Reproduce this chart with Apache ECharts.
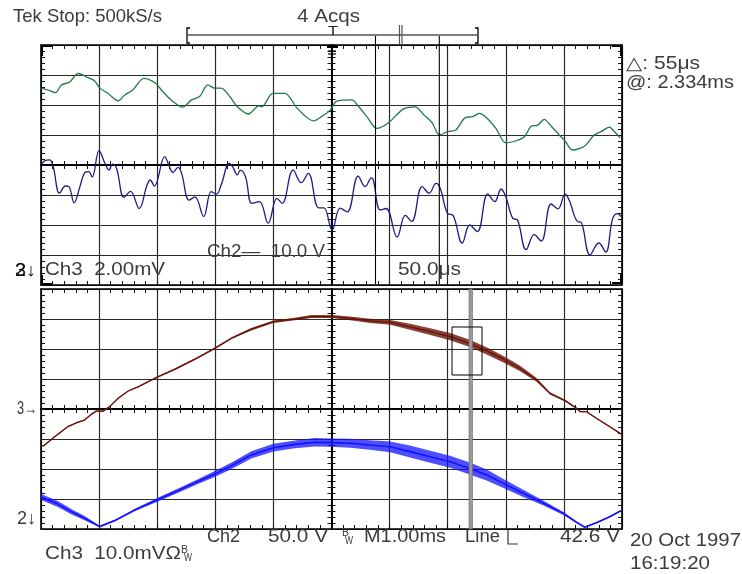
<!DOCTYPE html>
<html><head><meta charset="utf-8">
<script src="https://cdn.jsdelivr.net/npm/echarts@6.0.0/dist/echarts.min.js"></script>
<style>html,body{margin:0;padding:0;background:#fff;}#chart{width:742px;height:574px;}</style>
</head><body><div id="chart"></div>
<script>
// ===== Data (graticule divisions: x 0..10, y -4..4, 0 = centre line) =====
// Upper (zoomed, 50.0 µs/div) window
const greenTrace = [[0,2.56],[0.12,2.5],[0.25,2.41],[0.35,2.67],[0.49,2.76],[0.64,3.05],[0.81,2.91],[0.92,2.81],[1.01,2.57],[1.15,2.39],[1.33,2.14],[1.44,2.33],[1.58,2.5],[1.77,2.89],[1.96,2.74],[2.1,2.44],[2.24,2.17],[2.44,1.93],[2.59,2.17],[2.73,2.28],[2.87,2.67],[2.99,2.56],[3.1,2.56],[3.25,2.28],[3.38,1.94],[3.57,1.7],[3.75,1.97],[3.8,1.94],[3.99,2.39],[4.2,2.39],[4.41,1.89],[4.69,1.47],[4.84,1.63],[4.98,1.83],[5.09,2.13],[5.35,2.17],[5.47,1.94],[5.61,1.61],[5.78,1.22],[5.98,1.41],[6.24,1.87],[6.44,1.94],[6.59,1.67],[6.73,1.41],[6.86,1.0],[7.0,1.11],[7.14,1.17],[7.31,1.59],[7.43,1.61],[7.54,1.72],[7.66,1.59],[7.83,1.22],[8.0,0.74],[8.17,0.8],[8.32,0.94],[8.43,1.28],[8.55,1.33],[8.66,1.52],[8.78,1.3],[8.92,1.0],[9.01,0.83],[9.15,0.5],[9.29,0.56],[9.38,0.67],[9.52,1.0],[9.64,1.11],[9.78,1.26],[9.87,1.11],[9.97,0.91]];
const navyTrace = [[0,0],[0.06,0.14],[0.15,0.17],[0.21,-0.06],[0.32,-0.94],[0.42,-0.7],[0.48,-0.72],[0.57,-1.26],[0.67,-0.72],[0.75,-0.26],[0.82,-0.22],[0.88,-0.4],[1.0,0.48],[1.1,0.06],[1.17,-0.17],[1.23,0.03],[1.3,-0.11],[1.43,-1.08],[1.54,-0.88],[1.69,-1.45],[1.82,-0.7],[1.88,-0.5],[1.95,-0.7],[2.13,0.28],[2.2,0],[2.27,-0.25],[2.36,-0.08],[2.42,-0.28],[2.55,-1.17],[2.65,-1.06],[2.8,-1.72],[2.93,-0.89],[3.02,-0.97],[3.1,-0.67],[3.24,0.05],[3.3,-0.06],[3.38,-0.33],[3.43,-0.17],[3.52,-0.39],[3.63,-1.28],[3.76,-1.22],[3.91,-1.94],[4.06,-1.11],[4.15,-1.28],[4.34,-0.17],[4.48,-0.59],[4.6,-0.28],[4.78,-1.43],[4.87,-1.43],[5.01,-2.17],[5.15,-1.44],[5.27,-1.56],[5.46,-0.37],[5.58,-0.72],[5.69,-0.43],[5.72,-0.5],[5.84,-1.5],[5.94,-1.45],[6.13,-2.4],[6.27,-1.68],[6.38,-1.88],[6.56,-0.72],[6.68,-0.94],[6.8,-0.61],[6.87,-0.77],[7.0,-1.62],[7.09,-1.67],[7.25,-2.6],[7.38,-2.0],[7.51,-2.22],[7.69,-0.96],[7.81,-1.22],[7.92,-0.8],[8.0,-1.06],[8.12,-1.78],[8.2,-1.83],[8.35,-2.82],[8.49,-2.32],[8.61,-2.54],[8.78,-1.3],[8.9,-1.46],[9.02,-0.97],[9.09,-1.17],[9.24,-1.89],[9.29,-1.9],[9.45,-3.0],[9.6,-2.6],[9.72,-2.9],[9.84,-1.78],[9.93,-1.62],[9.98,-1.72]];
// Lower (main, 1.00 ms/div) window: [x, y, noise half-width]
const brownTrace = [[0,-1.23,0.02],[0.05,-1.22,0.02],[0.24,-0.92,0.02],[0.46,-0.59,0.02],[0.64,-0.44,0.02],[0.75,-0.37,0.02],[0.87,-0.17,0.02],[0.95,-0.07,0.02],[1.07,-0.07,0.02],[1.18,0.08,0.02],[1.33,0.36,0.02],[1.5,0.6,0.02],[1.67,0.74,0.02],[2.0,1.06,0.02],[2.3,1.32,0.03],[2.65,1.66,0.03],[2.99,2.02,0.03],[3.28,2.36,0.03],[3.62,2.66,0.04],[4.0,2.91,0.04],[4.37,3.0,0.04],[4.65,3.08,0.05],[5.0,3.08,0.05],[5.32,3.02,0.06],[5.66,2.94,0.07],[6.01,2.89,0.08],[6.35,2.74,0.1],[6.7,2.58,0.11],[7.04,2.41,0.12],[7.38,2.19,0.12],[7.67,1.94,0.12],[7.96,1.66,0.11],[8.24,1.36,0.09],[8.53,0.97,0.06],[8.76,0.52,0.04],[9.02,0.28,0.03],[9.22,0.02,0.02],[9.28,-0.09,0.02],[9.39,-0.09,0.02],[9.56,-0.31,0.02],[9.79,-0.59,0.02],[9.98,-0.83,0.02]];
const blueTrace = [[0,-2.93,0.1],[0.29,-3.17,0.1],[0.52,-3.42,0.09],[0.75,-3.64,0.07],[1.01,-3.92,0.03],[1.27,-3.72,0.03],[1.61,-3.37,0.04],[2.0,-3.03,0.06],[2.36,-2.72,0.07],[2.7,-2.42,0.08],[2.99,-2.17,0.1],[3.28,-1.89,0.11],[3.62,-1.53,0.12],[4.0,-1.29,0.13],[4.37,-1.18,0.13],[4.71,-1.11,0.14],[5.0,-1.12,0.14],[5.32,-1.14,0.15],[5.66,-1.2,0.16],[6.01,-1.26,0.18],[6.35,-1.42,0.2],[6.7,-1.59,0.2],[7.04,-1.76,0.2],[7.38,-1.98,0.2],[7.67,-2.2,0.18],[7.96,-2.48,0.15],[8.3,-2.81,0.12],[8.65,-3.14,0.08],[8.99,-3.48,0.05],[9.22,-3.78,0.03],[9.36,-3.94,0.02],[9.56,-3.79,0.02],[9.79,-3.59,0.02],[9.98,-3.39,0.02]];
// Texts
const headerLeft = 'Tek Stop: 500kS/s';
const headerMid = '4 Acqs';
const cursorDelta = '\u25B3: 55\u03BCs';
const cursorAt = '@: 2.334ms';
const upperCh3 = 'Ch3  2.00mV';
const upperCh2 = 'Ch2\u2014  10.0 V';
const upperTime = '50.0\u03BCs';
const footCh2 = 'Ch2';
const footCh2Scale = '50.0 V';
const footTime = 'M1.00ms';
const footTrig = 'Line';
const footLevel = '42.6 V';
const footCh3 = 'Ch3  10.0mV\u03A9';
const footDate = '20 Oct 1997';
const footClock = '16:19:20';

// ===== Layout =====
const GRIDS = [{left:41, top:45, width:581, height:240}, {left:41, top:289, width:581, height:240}];
const xAxes = [], yAxes = [];
function ax(dim, gi, pos, offset, inside, opt) {
  opt = opt || {};
  const a = {
    gridIndex: gi, type: 'value', position: pos, offset: offset,
    min: dim === 'x' ? 0 : -4, max: dim === 'x' ? 10 : 4, interval: 1,
    axisLine: {show: true, onZero: false, lineStyle: {color: '#000', width: opt.lw || 1.6}},
    axisTick: {show: true, inside: inside, length: 4, lineStyle: {color: '#111', width: 1}},
    minorTick: {show: true, splitNumber: 5, length: 4, lineStyle: {color: '#111', width: 1}},
    axisLabel: {show: false},
    splitLine: {show: !!opt.split, lineStyle: {color: '#2a2a2a', width: 1.2}},
    minorSplitLine: {show: false},
    silent: true
  };
  (dim === 'x' ? xAxes : yAxes).push(a);
}
for (let gi = 0; gi < 2; gi++) {
  const g = GRIDS[gi];
  ax('x', gi, 'bottom', 0, true, {split: true});
  ax('x', gi, 'top', 0, true);
  ax('x', gi, 'bottom', -g.height / 2, true, {lw: 1.8});
  ax('x', gi, 'bottom', -g.height / 2, false, {lw: 1.8});
  ax('y', gi, 'left', 0, true, {split: true});
  ax('y', gi, 'right', 0, true);
  ax('y', gi, 'left', -g.width / 2, true, {lw: 1.8});
  ax('y', gi, 'left', -g.width / 2, false, {lw: 1.8});
}

function band(trace, color) {
  return function (params, api) {
    const up = trace.map(p => api.coord([p[0], p[1] + p[2]]));
    const dn = trace.slice().reverse().map(p => api.coord([p[0], p[1] - p[2]]));
    return {type: 'polygon', shape: {points: up.concat(dn)}, style: {fill: color}, silent: true};
  };
}

const mctx = document.createElement('canvas').getContext('2d');
const FONT = '"Liberation Sans", Arial, sans-serif';
function T(str, x0, x1, cy, size, color) {
  const font = size + 'px ' + FONT;
  mctx.font = font;
  const w = mctx.measureText(str).width;
  return {type: 'text', x: x0, y: cy, scaleX: (x1 - x0) / w, z: 100, silent: true,
    style: {text: str, font: font, fill: color || '#3c3c3c', align: 'left', verticalAlign: 'middle'}};
}
function L(x1, y1, x2, y2, w, c) {
  return {type: 'line', z: 50, silent: true, shape: {x1, y1, x2, y2}, style: {stroke: c || '#000', lineWidth: w || 1}};
}
function P(points, w, c) {
  return {type: 'polyline', z: 60, silent: true, shape: {points}, style: {stroke: c || '#000', lineWidth: w || 1.5, fill: null}};
}

const graphics = [
  T(headerLeft, 13, 162, 17, 19),
  T(headerMid, 297, 360, 17, 19),
  T(cursorDelta, 626, 700, 64, 18),
  T(cursorAt, 626, 734, 83, 18),
  T(upperCh3, 45, 165, 270, 18),
  T(upperCh2, 207, 325, 252, 18),
  T(upperTime, 398, 461, 270, 18),
  T('3', 15, 26, 271, 18, '#111'),
  T('2\u2193', 15, 36, 271, 18, '#111'),
  T('3\u2192', 17, 37, 409, 18),
  T('2\u2193', 17, 36, 519, 18),
  T(footCh2, 207, 240, 537, 18),
  T(footCh2Scale, 268, 328, 537, 18),
  T('B', 342, 349, 533, 10),
  T('W', 345, 353, 541, 10),
  T(footTime, 364, 446, 537, 18),
  T(footTrig, 465, 500, 537, 18),
  P([[508,530],[508,544],[518,544]], 1.2, '#333'),
  T(footLevel, 560, 620, 537, 18),
  T(footDate, 630, 741, 541, 18),
  T(footCh3, 45, 181, 554, 18),
  T('B', 181, 188, 550, 10),
  T('W', 184, 192, 558, 10),
  T(footClock, 630, 710, 564, 18),
  // record-length ruler
  L(188, 35, 477, 35, 1.2),
  P([[190,28],[187,28],[187,43],[190,43]], 1.3),
  P([[475,28],[478,28],[478,43],[475,43]], 1.3),
  T('T', 328, 338, 31, 13, '#222'),
  L(399.5, 25, 399.5, 45, 1.2, '#555'),
  L(402, 25, 402, 45, 1.2, '#555'),
  // trigger marker on top edge
  L(327, 46.5, 338, 46.5, 3),
  L(328, 51, 336, 51, 1.2),
  L(328, 54, 336, 54, 1.2),
  // upper-window time cursors
  L(375.5, 36, 375.5, 284, 1.1),
  L(439.3, 36, 439.3, 284, 1.1),
  // corner marks
  P([[42,56],[42,46],[52,46]], 2),
  P([[612,46],[621,46],[621,56]], 2),
  P([[612,283],[621,283],[621,273]], 2),
  P([[42,275],[42,284],[52,284]], 2),
  // zoom-window marker in main window
  {type: 'rect', z: 40, silent: true, shape: {x: 469, y: 289, width: 3.5, height: 240}, style: {fill: '#9a9a9a', stroke: '#666', lineWidth: 0.6}},
  {type: 'rect', z: 60, silent: true, shape: {x: 452, y: 327, width: 30, height: 48}, style: {fill: 'none', stroke: '#000', lineWidth: 1}}
];

const chart = echarts.init(document.getElementById('chart'), null, {renderer: 'canvas'});
chart.setOption({
  animation: false,
  backgroundColor: '#fff',
  grid: GRIDS.map(g => Object.assign({containLabel: false, outerBoundsMode: 'none'}, g)),
  xAxis: xAxes,
  yAxis: yAxes,
  series: [
    {type: 'line', xAxisIndex: 0, yAxisIndex: 0, data: greenTrace, showSymbol: false, symbol: 'none', smooth: 0.3, lineStyle: {color: '#1f7a46', width: 1.3}, silent: true, z: 5},
    {type: 'line', xAxisIndex: 0, yAxisIndex: 0, data: navyTrace, showSymbol: false, symbol: 'none', smooth: 0.4, lineStyle: {color: '#1c1c84', width: 1.3}, silent: true, z: 5},
    {type: 'custom', xAxisIndex: 4, yAxisIndex: 4, data: [[0, 0]], renderItem: band(brownTrace, 'rgba(105,18,5,0.8)'), silent: true, z: 4},
    {type: 'line', xAxisIndex: 4, yAxisIndex: 4, data: brownTrace.map(p => [p[0], p[1]]), showSymbol: false, symbol: 'none', lineStyle: {color: '#6a1205', width: 1.3}, silent: true, z: 5},
    {type: 'custom', xAxisIndex: 4, yAxisIndex: 4, data: [[0, 0]], renderItem: band(blueTrace, 'rgba(20,20,255,0.75)'), silent: true, z: 4},
    {type: 'line', xAxisIndex: 4, yAxisIndex: 4, data: blueTrace.map(p => [p[0], p[1]]), showSymbol: false, symbol: 'none', lineStyle: {color: '#1212ff', width: 1.6}, silent: true, z: 5}
  ],
  graphic: graphics
});
</script>
</body></html>
